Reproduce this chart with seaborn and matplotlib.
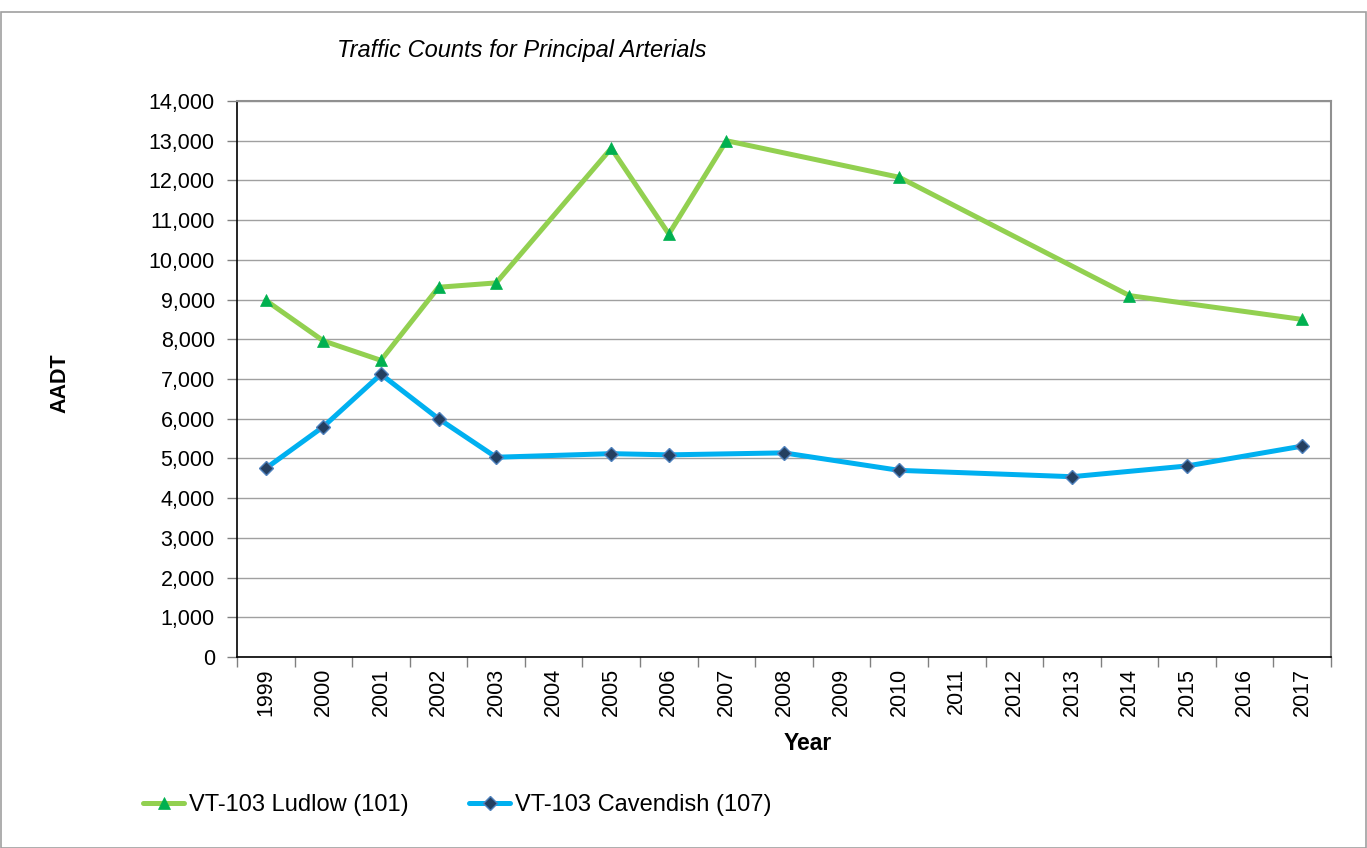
import numpy as np
import pandas as pd
import matplotlib
matplotlib.use("Agg")
import matplotlib.pyplot as plt
import seaborn as sns
from matplotlib.patches import Rectangle
from matplotlib.ticker import FuncFormatter, FixedLocator

years = [str(y) for y in range(1999, 2018)]
ludlow = [8980, 7960, 7470, 9310, 9420, np.nan, 12810, 10650, 13000, np.nan,
          np.nan, 12080, np.nan, np.nan, np.nan, 9100, np.nan, np.nan, 8500]
cavendish = [4750, 5800, 7120, 6000, 5030, np.nan, 5120, 5090, np.nan, 5140,
             np.nan, 4700, np.nan, np.nan, 4540, np.nan, 4810, np.nan, 5310]
series_names = ["VT-103 Ludlow (101)", "VT-103 Cavendish (107)"]
title = "Traffic Counts for Principal Arterials"
ytick_vals = list(range(0, 14001, 1000))

sns.set_theme(style="white")
plt.rcParams['font.family'] = ['Liberation Sans', 'DejaVu Sans']
plt.rcParams['text.color'] = 'black'
plt.rcParams['xtick.color'] = 'black'
plt.rcParams['ytick.color'] = 'black'

fig = plt.figure(figsize=(13.67, 8.48), dpi=100)
ax = fig.add_axes([237/1367, 1-657/848, (1331-237)/1367, (657-101)/848])

idx = np.arange(len(years))
df_l = pd.DataFrame({"x": idx, "AADT": ludlow}).dropna()
df_c = pd.DataFrame({"x": idx, "AADT": cavendish}).dropna()

sns.lineplot(data=df_l, x="x", y="AADT", ax=ax, color="#92D050", linewidth=3.6,
             marker="^", markersize=9, markerfacecolor="#00B050",
             markeredgecolor="#00B050", markeredgewidth=0.5, label=series_names[0])
sns.lineplot(data=df_c, x="x", y="AADT", ax=ax, color="#00B0F0", linewidth=3.6,
             marker="D", markersize=7.5, markerfacecolor="#243F60",
             markeredgecolor="#4F81BD", markeredgewidth=1.0, label=series_names[1])

ax.set_xlim(-0.5, len(years) - 0.5)
ax.set_ylim(0, 14000)
ax.set_yticks(ytick_vals)
ax.yaxis.set_major_formatter(FuncFormatter(lambda v, p: f"{int(v):,}"))
ax.set_xticks(idx)
ax.set_xticklabels(years, rotation=90, fontsize=15.5)
ax.xaxis.set_minor_locator(FixedLocator(np.arange(-0.5, len(years), 1.0)))
ax.tick_params(axis="x", which="major", length=0, pad=8, labelcolor="black")
ax.tick_params(axis="x", which="minor", length=7, width=1, color="#808080", bottom=True)
ax.tick_params(axis="y", which="major", length=7, width=1, color="#808080",
               left=True, labelsize=15.5, pad=9, labelcolor="black")

ax.grid(axis="y", color="#A0A0A0", linewidth=1)
ax.grid(axis="x", visible=False)
ax.set_axisbelow(True)
for s in ["left", "bottom"]:
    ax.spines[s].set_color("black")
    ax.spines[s].set_linewidth(1.2)
for s in ["top", "right"]:
    ax.spines[s].set_color("#909090")
    ax.spines[s].set_linewidth(1.5)

ax.set_xlabel("")
ax.set_ylabel("")
fig.text(808/1367, 1-743/848, "Year", ha="center", va="center",
         fontsize=16.5, fontweight="bold", color="black")
fig.text(60/1367, 1-383/848, "AADT", ha="center", va="center",
         fontsize=15.5, fontweight="bold", rotation=90, color="black")
fig.text(337/1367, 1-50/848, title, ha="left", va="center",
         fontsize=17, style="italic", color="black")

ax.get_legend().remove()
h, l = ax.get_legend_handles_labels()
leg = fig.legend(h, l, loc="center left", bbox_to_anchor=(143/1367, 1-805/848),
                 ncol=2, frameon=False, fontsize=17, handlelength=1.75,
                 handletextpad=0.2, columnspacing=2.55, borderpad=0, borderaxespad=0)
for t in leg.get_texts():
    t.set_color("black")

fig.patches.append(Rectangle((1/1367, 0.5/848), 1365/1367, (848-12.5)/848,
                             transform=fig.transFigure, fill=False,
                             edgecolor="#A0A0A0", linewidth=1.2))

fig.savefig("out.png", dpi=100, facecolor="white")
